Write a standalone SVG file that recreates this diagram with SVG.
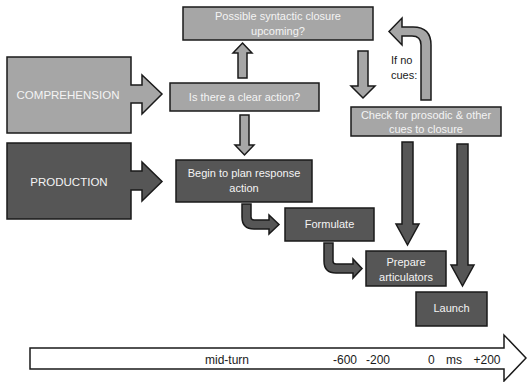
<svg xmlns="http://www.w3.org/2000/svg" width="527" height="382" viewBox="0 0 527 382">
<style>
.lt{fill:#a6a6a6;stroke:#1a1a1a;stroke-width:1.5;stroke-linejoin:miter}
.dk{fill:#565656;stroke:#1a1a1a;stroke-width:1.5;stroke-linejoin:miter}
.wt{fill:#ffffff;stroke:#1a1a1a;stroke-width:1.5}
text{font-family:"Liberation Sans",Arial,sans-serif;font-size:11px;text-anchor:middle}
.w{fill:#f4f4f4}
.b{fill:#1a1a1a}
.big{font-size:11.5px}
.tl{font-size:12px}
</style>
<rect width="527" height="382" fill="#ffffff"/>
<g id="comprehension">
<path class="lt" d="M7,57 L131,57 L131,85 L142,85 L142,75 L162,94 L142,114 L142,103 L131,103 L131,133 L7,133 Z"/>
<text class="w big" x="68" y="99">COMPREHENSION</text>
</g>
<g id="production">
<path class="dk" d="M7,143 L131,143 L131,171 L142,171 L142,162 L162,181.5 L142,201 L142,190 L131,190 L131,219 L7,219 Z"/>
<text class="w big" x="69" y="186">PRODUCTION</text>
</g>
<g id="closure">
<rect class="lt" x="183" y="7" width="190" height="33"/>
<text class="w" x="278" y="20">Possible syntactic closure</text>
<text class="w" x="278" y="35">upcoming?</text>
</g>
<g id="clear-action">
<rect class="lt" x="170" y="83" width="149" height="28"/>
<text class="w" x="244.5" y="101">Is there a clear action?</text>
</g>
<g id="plan">
<rect class="dk" x="176" y="160" width="136" height="42"/>
<text class="w" x="244" y="177">Begin to plan response</text>
<text class="w" x="244" y="192">action</text>
</g>
<g id="check">
<rect class="lt" x="351" y="107" width="150" height="29"/>
<text class="w" x="426" y="119">Check for prosodic &amp; other</text>
<text class="w" x="426" y="133">cues to closure</text>
</g>
<g id="formulate">
<rect class="dk" x="285" y="208" width="89" height="33"/>
<text class="w" x="329.5" y="228">Formulate</text>
</g>
<g id="prepare">
<rect class="dk" x="366" y="251" width="80" height="35"/>
<text class="w" x="406" y="266">Prepare</text>
<text class="w" x="406" y="281">articulators</text>
</g>
<g id="launch">
<rect class="dk" x="416" y="292" width="71" height="34"/>
<text class="w" x="451.5" y="312">Launch</text>
</g>
<g id="connectors">
<path class="lt" d="M242.5,43 L252,53 L247,53 L247,78 L238,78 L238,53 L233,53 Z"/>
<path class="lt" d="M240,115 L249,115 L249,145 L254,145 L244.5,155 L235,145 L240,145 Z"/>
<path class="lt" d="M358,51 L368,51 L368,86 L375,86 L363,98 L351,86 L358,86 Z"/>
<path class="lt" d="M421,100 L431,100 L431,45 Q431,27 413,27 L402,27 L402,18 L389,31.5 L402,45 L402,36 L412,36 Q421,36 421,45 Z"/>
<path class="dk" d="M402,142 L413,142 L413,224 L419,224 L407.5,245 L396,224 L402,224 Z"/>
<path class="dk" d="M457,144 L468,144 L468,265 L474,265 L462.5,286 L451,265 L457,265 Z"/>
<path class="dk" d="M242,204 L251,204 L251,217 Q251,220 254,220 L269,220 L269,215 L279,224.5 L269,234 L269,229 L254,229 Q242,229 242,217 Z"/>
<path class="dk" d="M324,243 L333,243 L333,261 Q333,264 336,264 L353,264 L353,259 L362,268.5 L353,278 L353,273 L336,273 Q324,273 324,261 Z"/>
</g>
<g id="label-if-no-cues">
<text class="b" x="391" y="64" style="text-anchor:start">If no</text>
<text class="b" x="391" y="79" style="text-anchor:start">cues:</text>
</g>
<g id="timeline">
<path class="wt" d="M30,348 L504,348 L504,335 L526,358 L504,381 L504,369 L30,369 Z"/>
<text class="b tl" x="227" y="364">mid-turn</text>
<text class="b tl" x="345" y="364">-600</text>
<text class="b tl" x="378" y="364">-200</text>
<text class="b tl" x="428" y="364" style="text-anchor:start">0</text>
<text class="b tl" x="446" y="364" style="text-anchor:start">ms</text>
<text class="b tl" x="487" y="364">+200</text>
</g>
</svg>
